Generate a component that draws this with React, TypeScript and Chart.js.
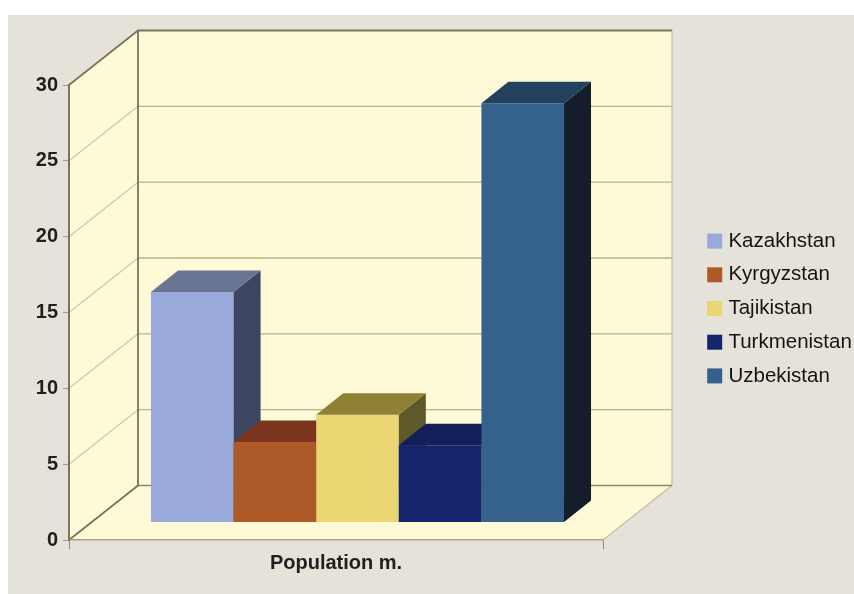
import React, { useEffect, useRef } from "react";
import { Chart, registerables } from "chart.js";

Chart.register(...registerables);

const categories = ["Population m."];
const countries = ["Kazakhstan", "Kyrgyzstan", "Tajikistan", "Turkmenistan", "Uzbekistan"];
const population = [15.2, 5.3, 7.1, 5.1, 27.65];
const frontColors = ["#99a9db", "#ad5a28", "#ebd673", "#15256c", "#35618f"];
const topColors = ["#6a7493", "#7b341d", "#8e8134", "#141f57", "#21415f"];
const sideColors = ["#3c4660", "#5a2a18", "#5f582a", "#0e1538", "#141d29"];
const yTicks = { min: 0, max: 30, step: 5 };

const FONT = "'Liberation Sans', Arial, sans-serif";
const WALL_DEPTH = { x: 69, y: -54.5 };
const BAR_DEPTH = { x: 27, y: -21.5 };
const BAR_INSET = { x: 21.5, y: -17.5 };
const LEGEND_LIFT = 4;
const PANEL = "#e5e2da";
const WALL = "#fefad8";
const EDGE = "#7b7558";
const GRID = "#b9b18f";
const GRID_SOFT = "#cdc9a8";

function strokeLine(ctx: CanvasRenderingContext2D, pts: number[][], color: string, width: number) {
  ctx.beginPath();
  pts.forEach(([x, y], i) => (i ? ctx.lineTo(x, y) : ctx.moveTo(x, y)));
  ctx.strokeStyle = color;
  ctx.lineWidth = width;
  ctx.stroke();
}

function fillPoly(ctx: CanvasRenderingContext2D, pts: number[][], color: string) {
  ctx.beginPath();
  pts.forEach(([x, y], i) => (i ? ctx.lineTo(x, y) : ctx.moveTo(x, y)));
  ctx.closePath();
  ctx.fillStyle = color;
  ctx.fill();
}

// Page panel, the three walls of the box and its gridlines.
const roomPlugin = {
  id: "room",
  afterLayout(chart: any) {
    chart.legend.top -= LEGEND_LIFT;
    chart.legend.bottom -= LEGEND_LIFT;
  },
  beforeDraw(chart: any) {
    const { ctx, width, height, chartArea: a, scales } = chart;
    const d = WALL_DEPTH;
    ctx.save();
    ctx.fillStyle = "#ffffff";
    ctx.fillRect(0, 0, width, height);
    ctx.fillStyle = PANEL;
    ctx.fillRect(8, 15, width - 8, height - 15);

    const { left: l, right: r, top: t, bottom: b } = a;
    fillPoly(ctx, [[l, t], [l + d.x, t + d.y], [r + d.x, t + d.y], [r + d.x, b + d.y], [r, b], [l, b]], WALL);

    for (let v = yTicks.min + yTicks.step; v < yTicks.max; v += yTicks.step) {
      const y = scales.y.getPixelForValue(v);
      strokeLine(ctx, [[l, y], [l + d.x, y + d.y]], GRID_SOFT, 1.2);
      strokeLine(ctx, [[l + d.x, y + d.y], [r + d.x, y + d.y]], GRID, 1.4);
    }
    strokeLine(ctx, [[r, b], [r + d.x, b + d.y], [r + d.x, t + d.y]], "#c2bda2", 1.2);
    strokeLine(ctx, [[l + d.x, b + d.y], [r + d.x, b + d.y]], "#8f8966", 1.6);
    strokeLine(ctx, [[l, b], [l + d.x, b + d.y], [l + d.x, t + d.y], [r + d.x, t + d.y]], EDGE, 1.8);
    strokeLine(ctx, [[l, t], [l + d.x, t + d.y]], EDGE, 1.8);
    ctx.restore();
  },
};

// Draws the bars left to right, shifted onto the floor, each with its top and side faces.
const barDepthPlugin = {
  id: "barDepth",
  beforeDatasetsDraw(chart: any) {
    const { ctx } = chart;
    const d = BAR_DEPTH;
    countries.forEach((_, i) => {
      const meta = chart.getDatasetMeta(i);
      ctx.save();
      ctx.translate(BAR_INSET.x, BAR_INSET.y);
      meta.controller.draw();
      meta.data.forEach((bar: any) => {
        const { x, y, base, width } = bar.getProps(["x", "y", "base", "width"], true);
        const l = x - width / 2;
        const r = x + width / 2;
        fillPoly(ctx, [[r, y], [r + d.x, y + d.y], [r + d.x, base + d.y], [r, base]], sideColors[i]);
        fillPoly(ctx, [[l, y], [l + d.x, y + d.y], [r + d.x, y + d.y], [r, y]], topColors[i]);
      });
      ctx.restore();
    });
  },
  beforeDatasetDraw() {
    return false;
  },
};

export default function App() {
  const ref = useRef<HTMLCanvasElement | null>(null);

  useEffect(() => {
    document.body.style.margin = "0";
    const chart = new Chart(ref.current as HTMLCanvasElement, {
      type: "bar",
      data: {
        labels: categories,
        datasets: countries.map((label, i) => ({
          label,
          data: [population[i]],
          backgroundColor: frontColors[i],
          borderWidth: 0,
        })),
      },
      plugins: [roomPlugin, barDepthPlugin],
      options: {
        animation: false,
        responsive: false,
        layout: { padding: { top: 85, left: 0, right: 0, bottom: 0 } },
        datasets: { bar: { categoryPercentage: 0.7735, barPercentage: 1 } },
        scales: {
          x: {
            grid: { drawOnChartArea: false, color: "#8f8a72", tickLength: 9, offset: true },
            border: { color: "#a8a283", width: 1.5 },
            ticks: { color: "#1f1f1f", padding: 2, font: { family: FONT, size: 20, weight: "bold" } },
            afterFit(scale: any) {
              scale.height = 54;
            },
          },
          y: {
            min: yTicks.min,
            max: yTicks.max,
            grid: { drawOnChartArea: false, color: "#9a9a90", tickLength: 6 },
            border: { color: EDGE, width: 2 },
            ticks: { stepSize: yTicks.step, color: "#1f1f1f", padding: 5, font: { family: FONT, size: 20, weight: "bold" } },
            afterFit(scale: any) {
              scale.width = 69;
            },
          },
          legendGap: {
            position: "right",
            display: true,
            grid: { display: false },
            border: { display: false },
            ticks: { display: false },
            afterFit(scale: any) {
              scale.width = 95;
            },
          },
        },
        plugins: {
          title: { display: false },
          tooltip: { enabled: false },
          legend: {
            position: "right",
            fullSize: false,
            maxWidth: 156,
            labels: {
              color: "#141414",
              font: { family: FONT, size: 20.5 },
              boxWidth: 7,
              boxHeight: 7,
              padding: 13.2,
              // A thick outline in the fill colour tightens the box-to-text gap.
              generateLabels(c: any) {
                return Chart.defaults.plugins.legend.labels.generateLabels(c).map((item: any) => ({
                  ...item,
                  strokeStyle: item.fillStyle,
                  lineWidth: 8,
                }));
              },
            },
          },
        },
      } as any,
    });
    return () => chart.destroy();
  }, []);

  return (
    <div style={{ position: "absolute", left: 0, top: 0 }}>
      <canvas ref={ref} width={854} height={594} style={{ display: "block" }} />
    </div>
  );
}
